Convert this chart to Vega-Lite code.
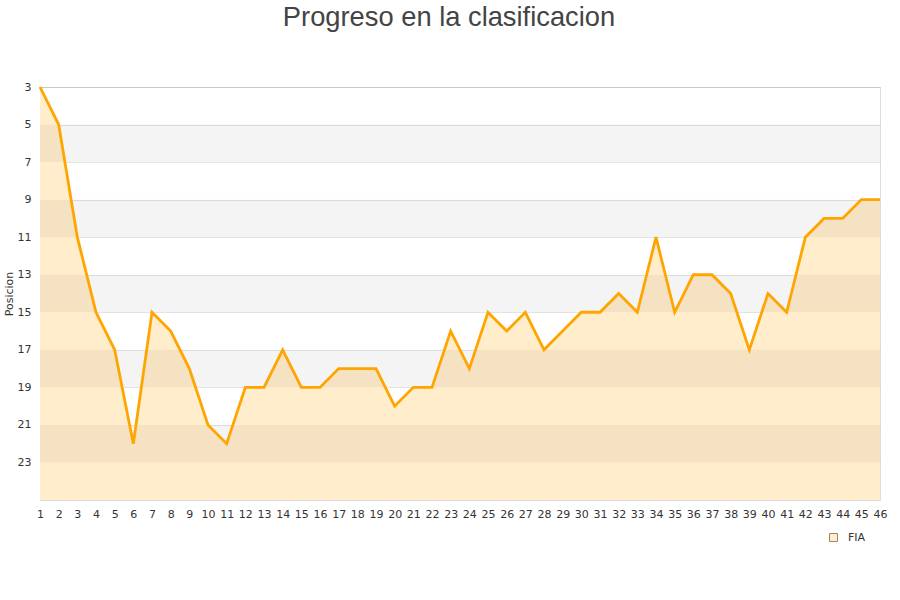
{
  "$schema": "https://vega.github.io/schema/vega-lite/v6.json",
  "autosize": {"type": "none"},
  "width": 840,
  "height": 413,
  "padding": {"left": 40, "top": 87, "right": 20, "bottom": 100},
  "background": "white",
  "title": {
    "text": "Progreso en la clasificacion",
    "font": "Liberation Sans",
    "fontSize": 27.3,
    "fontWeight": "normal",
    "color": "#444444",
    "offset": 50,
    "dx": -11
  },
  "config": {
    "view": {"stroke": "#dddddd"},
    "axis": {
      "labelFont": "DejaVu Sans",
      "labelFontSize": 11,
      "labelColor": "#333333",
      "titleFont": "DejaVu Sans",
      "titleFontSize": 11,
      "titleFontWeight": "normal",
      "titleColor": "#333333",
      "domainColor": "#dddddd",
      "gridColor": "#000000",
      "gridOpacity": 0.1,
      "ticks": false,
      "zindex": 1
    },
    "axisX": {"labelOverlap": false, "labelBound": false, "labelFlush": false, "labelAngle": 0},
    "legend": {"labelFont": "DejaVu Sans", "labelFontSize": 11, "labelColor": "#333333"}
  },
  "datasets": {
    "bands": [
      {"from": 5, "to": 7},
      {"from": 9, "to": 11},
      {"from": 13, "to": 15},
      {"from": 17, "to": 19},
      {"from": 21, "to": 23}
    ],
    "pos": [
      {"jornada": 1, "posicion": 3},
      {"jornada": 2, "posicion": 5},
      {"jornada": 3, "posicion": 11},
      {"jornada": 4, "posicion": 15},
      {"jornada": 5, "posicion": 17},
      {"jornada": 6, "posicion": 22},
      {"jornada": 7, "posicion": 15},
      {"jornada": 8, "posicion": 16},
      {"jornada": 9, "posicion": 18},
      {"jornada": 10, "posicion": 21},
      {"jornada": 11, "posicion": 22},
      {"jornada": 12, "posicion": 19},
      {"jornada": 13, "posicion": 19},
      {"jornada": 14, "posicion": 17},
      {"jornada": 15, "posicion": 19},
      {"jornada": 16, "posicion": 19},
      {"jornada": 17, "posicion": 18},
      {"jornada": 18, "posicion": 18},
      {"jornada": 19, "posicion": 18},
      {"jornada": 20, "posicion": 20},
      {"jornada": 21, "posicion": 19},
      {"jornada": 22, "posicion": 19},
      {"jornada": 23, "posicion": 16},
      {"jornada": 24, "posicion": 18},
      {"jornada": 25, "posicion": 15},
      {"jornada": 26, "posicion": 16},
      {"jornada": 27, "posicion": 15},
      {"jornada": 28, "posicion": 17},
      {"jornada": 29, "posicion": 16},
      {"jornada": 30, "posicion": 15},
      {"jornada": 31, "posicion": 15},
      {"jornada": 32, "posicion": 14},
      {"jornada": 33, "posicion": 15},
      {"jornada": 34, "posicion": 11},
      {"jornada": 35, "posicion": 15},
      {"jornada": 36, "posicion": 13},
      {"jornada": 37, "posicion": 13},
      {"jornada": 38, "posicion": 14},
      {"jornada": 39, "posicion": 17},
      {"jornada": 40, "posicion": 14},
      {"jornada": 41, "posicion": 15},
      {"jornada": 42, "posicion": 11},
      {"jornada": 43, "posicion": 10},
      {"jornada": 44, "posicion": 10},
      {"jornada": 45, "posicion": 9},
      {"jornada": 46, "posicion": 9}
    ]
  },
  "layer": [
    {
      "data": {"name": "pos"},
      "mark": {"type": "area", "interpolate": "linear"},
      "encoding": {
        "x": {
          "field": "jornada",
          "type": "ordinal",
          "title": null,
          "scale": {"type": "point", "padding": 0},
          "axis": {"grid": false, "labelPadding": 8, "labelOverlap": false, "labelAngle": 0}
        },
        "y": {
          "field": "posicion",
          "type": "quantitative",
          "title": "Posicion",
          "scale": {"domain": [3, 25], "reverse": true, "nice": false, "zero": false},
          "axis": {"values": [3, 5, 7, 9, 11, 13, 15, 17, 19, 21, 23], "labelPadding": 9, "titlePadding": 3}
        },
        "y2": {"datum": 25},
        "fill": {
          "datum": "FIA",
          "type": "nominal",
          "scale": {"range": ["#ffedcc"]},
          "legend": {
            "title": null,
            "orient": "none",
            "legendX": 788,
            "legendY": 445,
            "symbolType": "square",
            "symbolSize": 64,
            "symbolStrokeColor": "#9a8668",
            "symbolStrokeWidth": 1,
            "symbolOpacity": 1,
            "labelOffset": 9
          }
        }
      }
    },
    {
      "data": {"name": "bands"},
      "mark": {"type": "rect", "fill": "#000000", "opacity": 0.045},
      "encoding": {
        "y": {"field": "from", "type": "quantitative"},
        "y2": {"field": "to"}
      }
    },
    {
      "data": {"name": "pos"},
      "mark": {"type": "line", "color": "#ffa500", "strokeWidth": 2.8},
      "encoding": {
        "x": {"field": "jornada", "type": "ordinal"},
        "y": {"field": "posicion", "type": "quantitative"}
      }
    }
  ]
}
